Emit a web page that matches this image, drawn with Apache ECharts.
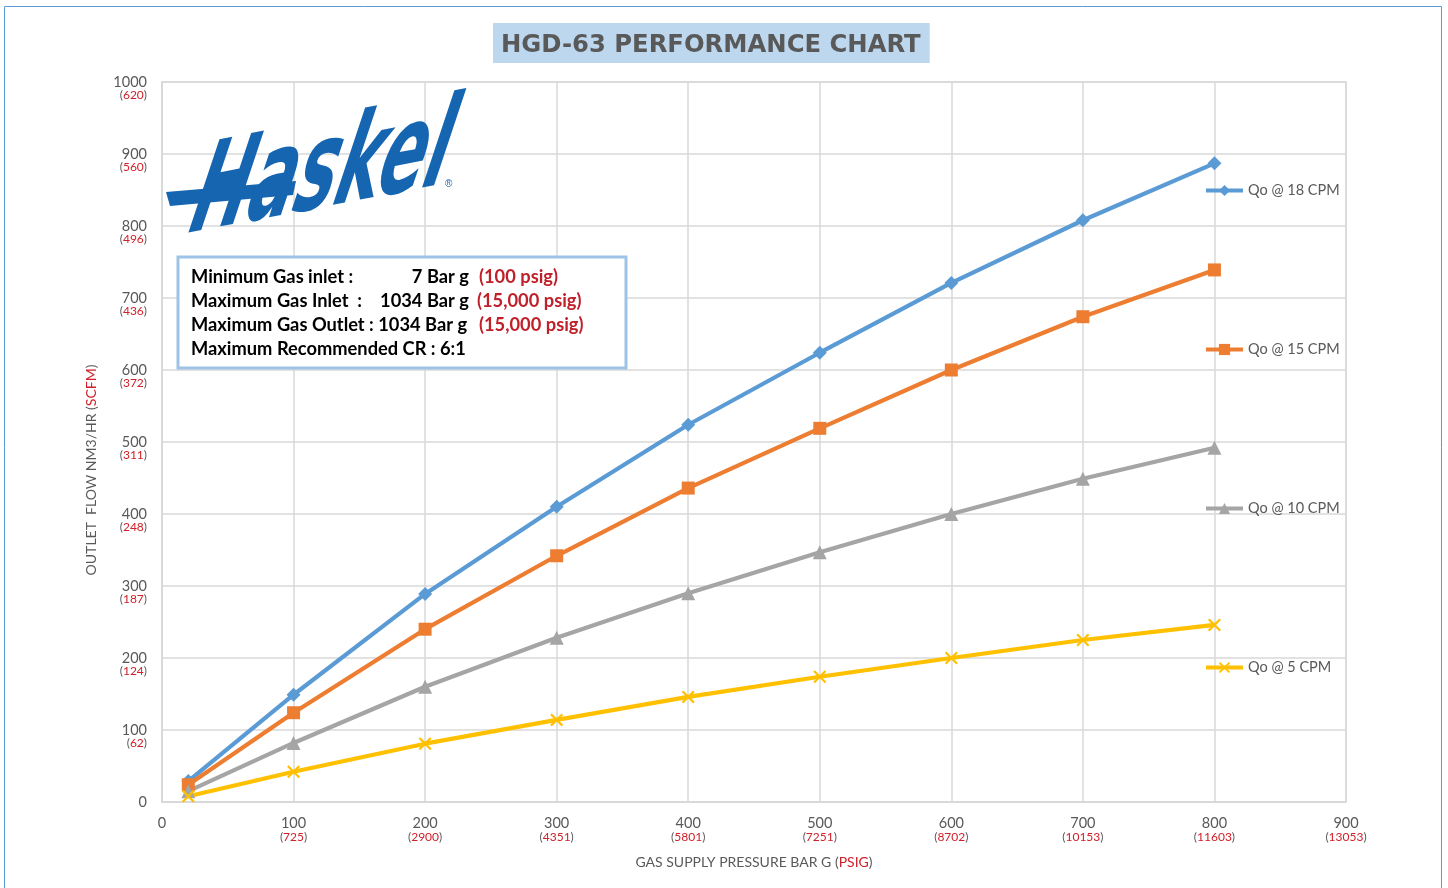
<!DOCTYPE html>
<html><head><meta charset="utf-8">
<script src="https://cdn.jsdelivr.net/npm/echarts@6/dist/echarts.min.js"></script>
<style>html,body{margin:0;padding:0;background:#fff}#c{width:1448px;height:888px}</style>
</head><body><div id="c"></div>
<script>
const pressureBar = [20, 100, 200, 300, 400, 500, 600, 700, 800];
const qo18 = [29, 149, 289, 410, 524, 624, 721, 808, 887];
const qo15 = [24, 124, 240, 342, 436, 519, 600, 674, 739];
const qo10 = [15, 82, 160, 228, 290, 347, 400, 449, 492];
const qo5  = [8, 42, 81, 114, 146, 174, 200, 225, 246];
const seriesNames = ['Qo @ 18 CPM', 'Qo @ 15 CPM', 'Qo @ 10 CPM', 'Qo @ 5 CPM'];
const xPsig = {100:'725',200:'2900',300:'4351',400:'5801',500:'7251',600:'8702',700:'10153',800:'11603',900:'13053'};
const yScfm = {100:'62',200:'124',300:'187',400:'248',500:'311',600:'372',700:'436',800:'496',900:'560',1000:'620'};

const FONT = 'Lato, "Open Sans", sans-serif';
const GRAY = '#595959', RED = '#d0202a', GRID = '#d9d9d9';
const xSym = 'path://M0,1.2L1.2,0L5,3.8L8.8,0L10,1.2L6.2,5L10,8.8L8.8,10L5,6.2L1.2,10L0,8.8L3.8,5Z';

const chart = echarts.init(document.getElementById('c'), null, {renderer:'canvas'});
function mk(name, data, color, symbol, size){
  return {name, type:'line', data: pressureBar.map((x,i)=>[x,data[i]]),
    symbol, symbolSize:size, showSymbol:true,
    lineStyle:{color, width:4.2}, itemStyle:{color}, z:3};
}
const labRich = {
  s:{fontSize:13, lineHeight:13, fontFamily:FONT},
  v:{fontSize:14.5, lineHeight:13, color:GRAY, fontFamily:FONT},
  p:{fontSize:12, lineHeight:13, color:GRAY, fontFamily:FONT},
  r:{fontSize:12, lineHeight:13, color:RED, fontFamily:FONT}
};
const INFO = 'bold 18.3px ' + FONT;
chart.setOption({
  animation:false,
  title:{text:'HGD-63 PERFORMANCE CHART', left:493, top:23,
    backgroundColor:'#bdd7ee', padding:[10,9,4,8],
    textStyle:{fontFamily:'"DejaVu Sans", sans-serif', fontWeight:'bold', fontSize:24.3, color:GRAY, lineHeight:26}},
  grid:{left:162, right:102, top:82, bottom:86, show:true, borderColor:GRID, borderWidth:1.5},
  legend:{orient:'vertical', left:1199, top:178, itemGap:144, itemWidth:37, itemHeight:14,
    data:seriesNames, selectedMode:false,
    lineStyle:{width:4},
    textStyle:{color:GRAY, fontSize:14.5, fontFamily:FONT}},
  xAxis:{type:'value', min:0, max:900, interval:100,
    name:'{a|GAS SUPPLY PRESSURE BAR G (}{b|PSIG}{a|)}', nameLocation:'middle', nameGap:53,
    nameTextStyle:{rich:{a:{color:GRAY, fontSize:14, fontFamily:FONT}, b:{color:RED, fontSize:14, fontFamily:FONT}}},
    axisLine:{lineStyle:{color:GRID, width:1.5}}, axisTick:{show:false},
    splitLine:{show:true, lineStyle:{color:GRID, width:1.5}},
    axisLabel:{margin:14, showMaxLabel:true, showMinLabel:true,
      formatter:v=> v===0 ? '{v|0}' : '{v|'+v+'}\n{p|(}{r|'+xPsig[v]+'}{p|)}', rich:{
        v:{fontSize:14.5, lineHeight:14, color:GRAY, fontFamily:FONT},
        p:{fontSize:12, lineHeight:14, color:GRAY, fontFamily:FONT},
        r:{fontSize:12, lineHeight:14, color:RED, fontFamily:FONT}}}},
  yAxis:{type:'value', min:0, max:1000, interval:100,
    name:'{a|OUTLET  FLOW NM3/HR (}{b|SCFM}{a|)}', nameLocation:'middle', nameGap:64, nameRotate:90,
    nameTextStyle:{padding:[0,56,0,0], rich:{a:{color:GRAY, fontSize:14, fontFamily:FONT}, b:{color:RED, fontSize:14, fontFamily:FONT}}},
    axisLine:{show:true, lineStyle:{color:GRID, width:1.5}}, axisTick:{show:false},
    splitLine:{show:true, lineStyle:{color:GRID, width:1.5}},
    axisLabel:{margin:15, showMaxLabel:true,
      formatter:v=> v===0 ? '{v|0}' : '{s| }\n{v|'+v+'}\n{p|(}{r|'+yScfm[v]+'}{p|)}', rich:labRich}},
  series:[
    mk(seriesNames[0], qo18, '#5b9bd5', 'diamond', 14),
    mk(seriesNames[1], qo15, '#ed7d31', 'rect', 13),
    mk(seriesNames[2], qo10, '#a5a5a5', 'triangle', 14),
    mk(seriesNames[3], qo5, '#ffc000', xSym, 13)
  ],
  graphic:[
    {type:'rect', z:-10, silent:true, shape:{x:4.5, y:6.5, width:1437, height:890}, style:{fill:'none', stroke:'#5b9bd5', lineWidth:1}},
    // logo
    {type:'polygon', z:5, shape:{points:[[166,192],[296,181],[293,195],[170,206]]}, style:{fill:'#1565b0'}},
    {type:'text', z:5, x:180, y:263, rotation:0.19, scaleX:0.62, scaleY:1.05, skewX:-0.42,
      style:{text:'Haskel', font:'italic bold 112px "DejaVu Sans"', fill:'#1565b0', textVerticalAlign:'bottom'}},
    {type:'text', z:5, x:445, y:179, style:{text:'®', font:'10px sans-serif', fill:'#1565b0'}},
    // info box
    {type:'rect', z:50, shape:{x:178, y:257, width:448, height:111}, style:{fill:'#fff', stroke:'#9dc3e6', lineWidth:3}},
    {type:'text', z:51, x:191, y:277, style:{text:'Minimum Gas inlet :', font:INFO, fill:'#000', textVerticalAlign:'middle'}},
    {type:'text', z:51, x:469, y:277, style:{text:'7 Bar g', font:INFO, fill:'#000', textAlign:'right', textVerticalAlign:'middle'}},
    {type:'text', z:51, x:479, y:277, style:{text:'(100 psig)', font:INFO, fill:'#c0202a', textVerticalAlign:'middle'}},
    {type:'text', z:51, x:191, y:301, style:{text:'Maximum Gas Inlet  :', font:INFO, fill:'#000', textVerticalAlign:'middle'}},
    {type:'text', z:51, x:469, y:301, style:{text:'1034 Bar g', font:INFO, fill:'#000', textAlign:'right', textVerticalAlign:'middle'}},
    {type:'text', z:51, x:477, y:301, style:{text:'(15,000 psig)', font:INFO, fill:'#c0202a', textVerticalAlign:'middle'}},
    {type:'text', z:51, x:191, y:325, style:{text:'Maximum Gas Outlet : 1034 Bar g', font:INFO, fill:'#000', textVerticalAlign:'middle'}},
    {type:'text', z:51, x:479, y:325, style:{text:'(15,000 psig)', font:INFO, fill:'#c0202a', textVerticalAlign:'middle'}},
    {type:'text', z:51, x:191, y:349, style:{text:'Maximum Recommended CR : 6:1', font:INFO, fill:'#000', textVerticalAlign:'middle'}}
  ]
});
</script></body></html>
